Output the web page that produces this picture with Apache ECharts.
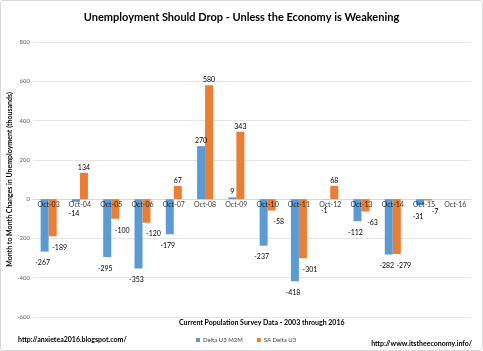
<!DOCTYPE html>
<html><head><meta charset="utf-8">
<script src="https://cdn.jsdelivr.net/npm/echarts@6/dist/echarts.min.js"></script>
<style>
html,body{margin:0;padding:0;background:#fff;}
#c{position:absolute;left:0;top:0;width:481px;height:349px;border:1px solid #d9d9d9;border-radius:3px;}
</style></head>
<body><div id="c"></div>
<script>
var categories = ['Oct-03','Oct-04','Oct-05','Oct-06','Oct-07','Oct-08','Oct-09','Oct-10','Oct-11','Oct-12','Oct-13','Oct-14','Oct-15','Oct-16'];
var deltaM2M = [-267,-14,-295,-353,-179,270,9,-237,-418,-1,-112,-282,-31,null];
var saDelta = [-189,134,-100,-120,67,580,343,-58,-301,68,-63,-279,-7,null];
var yTicks = {min:-600,max:800,interval:200};

var FONT = 'Lato, "Open Sans", sans-serif';
function mk(arr, negOffset){
  return arr.map(function(v){
    if (v === null) return {value:null, label:{show:false}};
    return {value:v, label:{position: v<0?'bottom':'top', offset: v<0?negOffset:[0,0], distance: v<0?8:2}};
  });
}
var chart = echarts.init(document.getElementById('c'));
chart.setOption({
  animation:false,
  textStyle:{fontFamily:FONT},
  title:{text:'Unemployment Should Drop - Unless the Economy is Weakening',left:'center',top:6,
    textStyle:{fontSize:11,fontWeight:'bold',color:'#000',fontFamily:FONT}},
  grid:{left:32,right:11,top:41,bottom:33,containLabel:false,outerBoundsMode:'none'},
  legend:{left:195,top:336,itemWidth:4,itemHeight:4,itemGap:14,icon:'rect',padding:0,
    textStyle:{fontSize:6,color:'#404040',fontFamily:FONT,padding:[0,0,0,-2]},
    data:['Delta U3 M2M','SA Delta U3']},
  graphic:[
    {type:'text',left:17,top:335,style:{text:'http://anxietea2016.blogspot.com/',fill:'#000',font:'bold 7px '+FONT}},
    {type:'text',right:10,top:339,style:{text:'http://www.itstheeconomy.info/',fill:'#000',font:'bold 7px '+FONT}},
    {type:'text',left:178,top:318,style:{text:'Current Population Survey Data - 2003 through 2016',fill:'#000',font:'bold 7px '+FONT}}
  ],
  xAxis:{type:'category',data:categories,
    axisLine:{onZero:true,lineStyle:{color:'#d9d9d9'}},
    axisTick:{show:false},
    axisLabel:{show:false}},
  yAxis:{type:'value',min:yTicks.min,max:yTicks.max,interval:yTicks.interval,
    name:'Month to Month Changes in Unemployment (thousands)',nameLocation:'middle',nameGap:20,
    nameMoveOverlap:false,
    nameTextStyle:{fontSize:7,color:'#000',fontWeight:'bold',fontFamily:FONT},
    axisLabel:{fontSize:6,color:'#595959',margin:3,fontFamily:FONT},
    axisLine:{show:false},axisTick:{show:false},
    splitLine:{lineStyle:{color:'#e4e4e4'}}},
  series:[
    {name:'Delta U3 M2M',type:'bar',data:mk(deltaM2M,[-2,0]),barWidth:8,barGap:'0%',
      itemStyle:{color:'#5B9BD5'},
      label:{show:true,fontSize:7,color:'#000',fontFamily:FONT}},
    {name:'SA Delta U3',type:'bar',data:mk(saDelta,[7,0]),barWidth:8,barGap:'0%',
      itemStyle:{color:'#ED7D31'},
      label:{show:true,fontSize:7,color:'#000',fontFamily:FONT}},
    {name:'catLabels',type:'scatter',z:10,symbolSize:0,silent:true,
      data:categories.map(function(c){return [c,0];}),
      label:{show:true,position:'bottom',distance:2,fontSize:7,color:'#000',fontFamily:FONT,
        formatter:function(p){return p.value[0];}}}
  ]
});
</script></body></html>
